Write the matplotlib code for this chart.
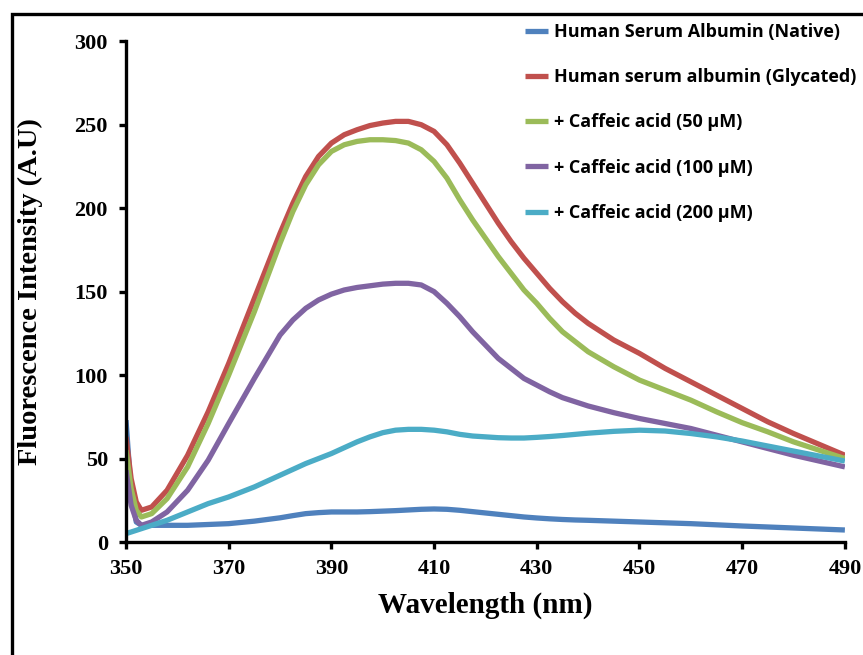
import matplotlib
matplotlib.use('Agg')
import matplotlib.pyplot as plt
from matplotlib.patches import Rectangle

# wavelength grid (nm)
wavelength = [350, 351, 352, 353, 355, 358, 362, 366, 370, 375, 380, 382.5, 385, 387.5,
              390, 392.5, 395, 397.5, 400, 402.5, 405, 407.5, 410, 412.5, 415, 417.5,
              420, 422.5, 425, 427.5, 430, 432.5, 435, 437.5, 440, 445, 450, 455, 460,
              465, 470, 475, 480, 485, 490]

native = [73, 30, 12, 10, 10, 10, 10, 10.5, 11, 12.5, 14.5, 15.8, 17, 17.6,
          18, 18, 18, 18.2, 18.5, 18.8, 19.2, 19.6, 19.8, 19.6, 19, 18.2,
          17.4, 16.6, 15.8, 15, 14.4, 13.9, 13.5, 13.2, 13, 12.5, 12, 11.5, 11,
          10.3, 9.6, 9, 8.4, 7.8, 7.2]
glycated = [63, 38, 24, 19, 21, 31, 52, 78, 107, 146, 185, 203, 219, 231,
            239, 244, 247, 249.5, 251, 252, 252, 250, 246, 238, 227, 215,
            203, 191, 180, 170, 161, 152, 144, 137, 131, 121, 113, 104, 96,
            88, 80, 72, 65, 58.5, 52]
caf_50 = [55, 32, 19, 15, 17, 26, 45, 71, 100, 138, 179, 198, 214, 226,
          234, 238, 240, 241, 241, 240.5, 239, 235, 228, 218, 205, 193,
          182, 171, 161, 151, 143, 134, 126, 120, 114, 105, 97, 91, 85,
          78, 71.5, 66, 60, 55, 50]
caf_100 = [43, 22, 13, 10, 12, 18, 31, 49, 71, 98, 124, 133, 140, 145,
           148.5, 151, 152.5, 153.5, 154.5, 155, 155, 154, 150, 143, 135, 126,
           118, 110, 104, 98, 94, 90, 86.5, 84, 81.5, 77.5, 74, 71, 68,
           64, 60, 56, 52, 48.5, 45]
caf_200 = [5, 6, 7, 8, 10, 13, 18, 23, 27, 33, 40, 43.5, 47, 50,
           53, 56.5, 60, 63, 65.5, 67, 67.5, 67.5, 67, 66, 64.5, 63.5,
           63, 62.5, 62.3, 62.3, 62.7, 63.2, 63.8, 64.5, 65.2, 66.3, 67, 66.5, 65,
           63, 60.5, 57.5, 54.5, 51.5, 48.5]

series = [
    ('Human Serum Albumin (Native)', native, '#4F81BD'),
    ('Human serum albumin (Glycated)', glycated, '#C0504D'),
    ('+ Caffeic acid (50 \u00b5M)', caf_50, '#9BBB59'),
    ('+ Caffeic acid (100 \u00b5M)', caf_100, '#8064A2'),
    ('+ Caffeic acid (200 \u00b5M)', caf_200, '#4BACC6'),
]

fig = plt.figure(figsize=(8.63, 6.55), dpi=100)
ax = fig.add_axes([0.146, 0.1725, 0.833, 0.7645])

for label, vals, col in series:
    ax.plot(wavelength, vals, color=col, lw=3.8, label=label,
            solid_capstyle='butt', solid_joinstyle='round')

ax.set_xlim(350, 490)
ax.set_ylim(0, 300)
ax.set_xticks(range(350, 491, 20))
ax.set_yticks(range(0, 301, 50))

for s in ['top', 'right']:
    ax.spines[s].set_visible(False)
for s in ['left', 'bottom']:
    ax.spines[s].set_linewidth(2.4)

ax.tick_params(direction='out', length=5, width=2.4, colors='black')
ax.tick_params(axis='y', pad=8)
ax.tick_params(axis='x', pad=7)
for t in ax.get_xticklabels() + ax.get_yticklabels():
    t.set_fontfamily('Liberation Serif')
    t.set_fontweight('bold')
    t.set_fontsize(16)

ax.set_xlabel('Wavelength (nm)', fontfamily='Liberation Serif', fontweight='bold', fontsize=21)
ax.set_ylabel('Fluorescence Intensity (A.U)', fontfamily='Liberation Serif', fontweight='bold', fontsize=20.5)
ax.xaxis.set_label_coords(0.5, -0.1)
ax.yaxis.set_label_coords(-0.116, 0.5)

fig.legend(loc='upper left', bbox_to_anchor=(0.608, 0.965), frameon=False,
           prop={'family': 'Open Sans', 'weight': 'bold', 'size': 13},
           handlelength=1.3, handletextpad=0.3, labelspacing=1.51, borderpad=0,
           borderaxespad=0)

# outer chart border (cut off on the right and bottom)
fig.patches.append(Rectangle((0.0139, -0.1), 2, 1.0786, transform=fig.transFigure,
                             fill=False, edgecolor='black', lw=2.4))

fig.savefig('out.png', dpi=100)
